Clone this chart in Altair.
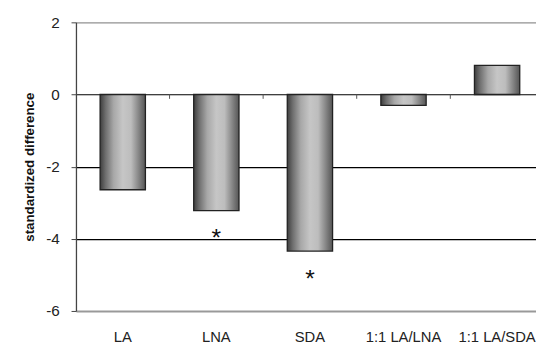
import altair as alt
import pandas as pd

categories = ["LA", "LNA", "SDA", "1:1 LA/LNA", "1:1 LA/SDA"]
values = [-2.64, -3.22, -4.34, -0.30, 0.81]
star_categories = ["LNA", "SDA"]
star_positions = [-3.98, -5.11]
y_ticks = [2, 0, -2, -4, -6]

bars_df = pd.DataFrame({"cat": categories, "value": values})
stars_df = pd.DataFrame({"cat": star_categories, "pos": star_positions, "label": ["*", "*"]})
ticks_df = pd.DataFrame({"cat": categories[1:]})

FONT = "Liberation Sans"
xscale = alt.Scale(domain=categories, range=[0, 475], paddingInner=0, paddingOuter=0)
yscale = alt.Scale(domain=[-6, 2], nice=False)

gradient = alt.LinearGradient(
    gradient="linear",
    x1=0, x2=1, y1=0, y2=0,
    stops=[
        alt.GradientStop(color="#3e3e3e", offset=0),
        alt.GradientStop(color="#6e6e6e", offset=0.12),
        alt.GradientStop(color="#a8a8a8", offset=0.3),
        alt.GradientStop(color="#c6c6c6", offset=0.5),
        alt.GradientStop(color="#bdbdbd", offset=0.68),
        alt.GradientStop(color="#7c7c7c", offset=0.88),
        alt.GradientStop(color="#555555", offset=1),
    ],
)

bars = alt.Chart(bars_df).mark_bar(
    width=46, color=gradient, stroke="#222222", strokeWidth=1.3
).encode(
    x=alt.X("cat:N", scale=xscale, sort=categories,
            axis=alt.Axis(title=None, ticks=False, domain=False, labelAngle=0,
                          labelFont=FONT, labelFontSize=15, labelColor="#222",
                          labelPadding=19, labelBound=False)),
    y=alt.Y("value:Q", scale=yscale,
            axis=alt.Axis(values=y_ticks, title="standardized difference",
                          labelExpr="replace(datum.label, '\u2212', '-')",
                          titleFont=FONT, titleFontSize=13.5, titleFontWeight="bold",
                          titleColor="#111", titlePadding=9,
                          labelFont=FONT, labelFontSize=15.5, labelColor="#222",
                          labelPadding=12, tickSize=5, tickColor="#444",
                          domainColor="#444", domainWidth=1.3,
                          grid=True,
                          gridColor={"condition": {"test": "datum.value === 2 || datum.value === -6", "value": "#999999"}, "value": "#000000"},
                          gridWidth={"condition": {"test": "datum.value === -6", "value": 2}, "value": 1.2})),
    y2=alt.datum(0),
)

ticks = alt.Chart(ticks_df).mark_rule(color="#555", strokeWidth=1).encode(
    x=alt.X("cat:N", scale=xscale, sort=categories, bandPosition=0),
    y=alt.datum(0),
    y2=alt.datum(-0.12),
)

stars = alt.Chart(stars_df).mark_text(
    font=FONT, fontSize=25, color="#111", baseline="middle"
).encode(
    x=alt.X("cat:N", scale=xscale, sort=categories),
    y=alt.Y("pos:Q", scale=yscale),
    text="label:N",
)

chart = alt.layer(bars, ticks, stars).properties(
    width=467, height=293,
    autosize=alt.AutoSizeParams(type="none"),
    padding={"left": 69, "top": 12, "right": 0, "bottom": 32},
).configure_view(stroke=None).configure(background="white")

chart.save("out.html", embed_options={"renderer": "svg", "actions": False})
